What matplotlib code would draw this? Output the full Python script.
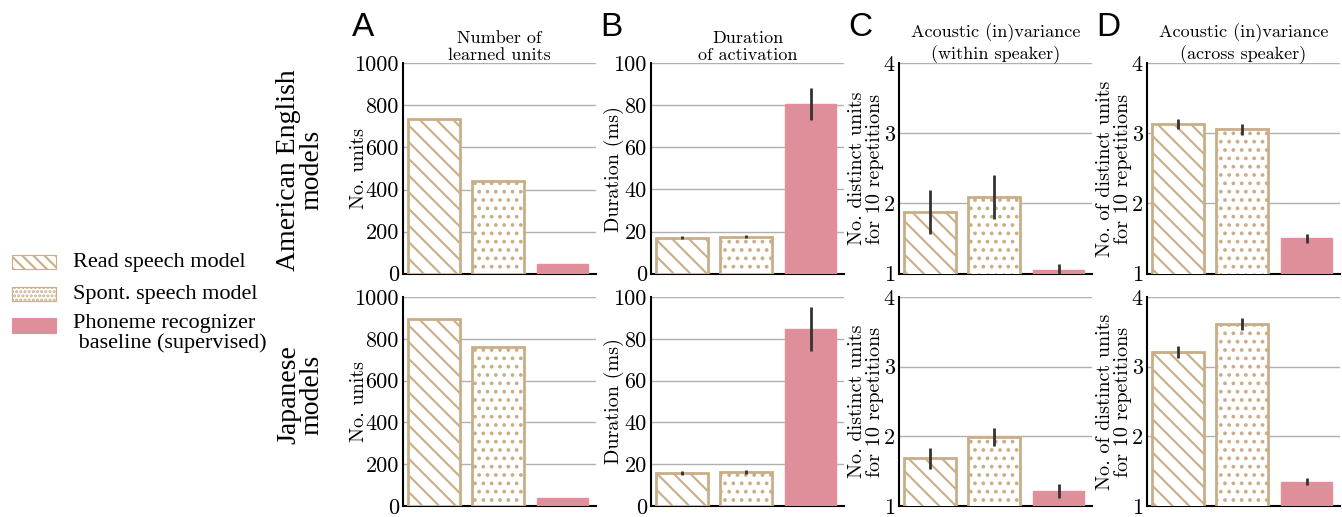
import matplotlib
matplotlib.use("Agg")
import matplotlib.pyplot as plt
from matplotlib.patches import Rectangle

plt.rcParams['font.family'] = 'cmr10'
plt.rcParams['axes.formatter.use_mathtext'] = False
plt.rcParams['hatch.linewidth'] = 1.5

models = ["Read speech model", "Spont. speech model", "Phoneme recognizer\n baseline (supervised)"]
row_labels = ["American English\nmodels", "Japanese\nmodels"]
panel_letters = ["A", "B", "C", "D"]
titles = ["Number of\nlearned units", "Duration\nof activation",
          "Acoustic (in)variance\n(within speaker)", "Acoustic (in)variance\n(across speaker)"]
ylabels = ["No. units", "Duration (ms)", "No. distinct units\nfor 10 repetitions",
           "No. of distinct units\nfor 10 repetitions"]
ylims = [(0, 1000), (0, 100), (1, 4), (1, 4)]
yticks = [[0, 200, 400, 600, 800, 1000], [0, 20, 40, 60, 80, 100], [1, 2, 3, 4], [1, 2, 3, 4]]

# English (top row)
en_units = [738, 441, 43]
en_dur = [17.0, 17.6, 80.6]
en_dur_err = [0.8, 0.8, 7.7]
en_within = [1.88, 2.09, 1.05]
en_within_err = [0.32, 0.31, 0.09]
en_across = [3.13, 3.06, 1.50]
en_across_err = [0.07, 0.075, 0.06]

# Japanese (bottom row)
ja_units = [894, 763, 39]
ja_dur = [15.8, 16.3, 84.8]
ja_dur_err = [0.8, 0.95, 10.6]
ja_within = [1.685, 1.99, 1.22]
ja_within_err = [0.15, 0.125, 0.10]
ja_across = [3.21, 3.61, 1.35]
ja_across_err = [0.08, 0.09, 0.055]

rows = [
    [(en_units, None), (en_dur, en_dur_err), (en_within, en_within_err), (en_across, en_across_err)],
    [(ja_units, None), (ja_dur, ja_dur_err), (ja_within, ja_within_err), (ja_across, ja_across_err)],
]

W, H = 1342, 517
fig = plt.figure(figsize=(W / 100, H / 100), dpi=100)

tan = '#c9ae87'
pink_face = '#de8f9a'
pink_edge = '#ea8d9b'
hatches = ['\\\\', '..', None]

col_left = [403, 651, 899, 1147]
ax_w = 193
row_top = [63.5, 297]
row_h = [210, 209]
ylab_x = [-0.18, -0.14, -0.08, -0.08]

for r in range(2):
    for c in range(4):
        ax = fig.add_axes([col_left[c] / W, 1 - (row_top[r] + row_h[r]) / H, ax_w / W, row_h[r] / H])
        vals, errs = rows[r][c]
        x = list(range(len(vals)))
        for i in x:
            if i < 2:
                ax.bar(i, vals[i], width=0.8, facecolor='white', edgecolor=tan,
                       hatch=hatches[i], linewidth=2.0, zorder=3)
            else:
                ax.bar(i, vals[i], width=0.8, facecolor=pink_face, edgecolor=pink_edge,
                       linewidth=1.0, zorder=3)
        if errs is not None:
            ax.errorbar(x, vals, yerr=errs, fmt='none', ecolor='#333333', elinewidth=2,
                        capsize=0, zorder=4)
        ax.set_xlim(-0.48, 2.52)
        ax.set_ylim(*ylims[c])
        ax.set_yticks(yticks[c])
        ax.set_xticks([])
        ax.yaxis.grid(True, color='#b0b0b0', linewidth=1.0, zorder=0)
        ax.set_axisbelow(True)
        for s in ['top', 'right']:
            ax.spines[s].set_visible(False)
        for s in ['left', 'bottom']:
            ax.spines[s].set_linewidth(1.5)
            ax.spines[s].set_color('black')
        ax.tick_params(axis='y', length=0, labelsize=16, pad=3)
        ax.set_ylabel(ylabels[c], fontsize=14.5, linespacing=1.0)
        ax.yaxis.set_label_coords(ylab_x[c], 0.5)
        if r == 0:
            ax.set_title(titles[c], fontsize=13, linespacing=1.2, pad=2)
            fig.text((col_left[c] - 51) / W, 1 - 28 / H, panel_letters[c],
                     fontsize=24, family='Liberation Sans', ha='left', va='center')

# row labels
row_centers = [170, 395]
for r in range(2):
    fig.text(300 / W, 1 - row_centers[r] / H, row_labels[r], rotation=90, ha='center', va='center',
             fontsize=20, family='Liberation Serif', linespacing=0.9)

# legend
leg_y = [262, 294, 325]
for i in range(3):
    y0 = leg_y[i] - 7
    if i < 2:
        p = Rectangle((12 / W, 1 - (y0 + 14) / H), 44 / W, 14 / H, transform=fig.transFigure,
                      facecolor='white', edgecolor=tan, hatch=('\\\\\\' if i == 0 else '....'),
                      linewidth=0.8)
    else:
        p = Rectangle((12 / W, 1 - (y0 + 15) / H), 44 / W, 15 / H, transform=fig.transFigure,
                      facecolor=pink_face, edgecolor=pink_edge, linewidth=0.8)
    fig.patches.append(p)
    fig.text(73 / W, 1 - leg_y[i] / H, models[i], ha='left', va='top' if i == 2 else 'center',
             fontsize=16, family='Liberation Serif', linespacing=1.0)
fig.texts[-1].set_position((73 / W, 1 - 314 / H))

fig.savefig('out.png', dpi=100)
